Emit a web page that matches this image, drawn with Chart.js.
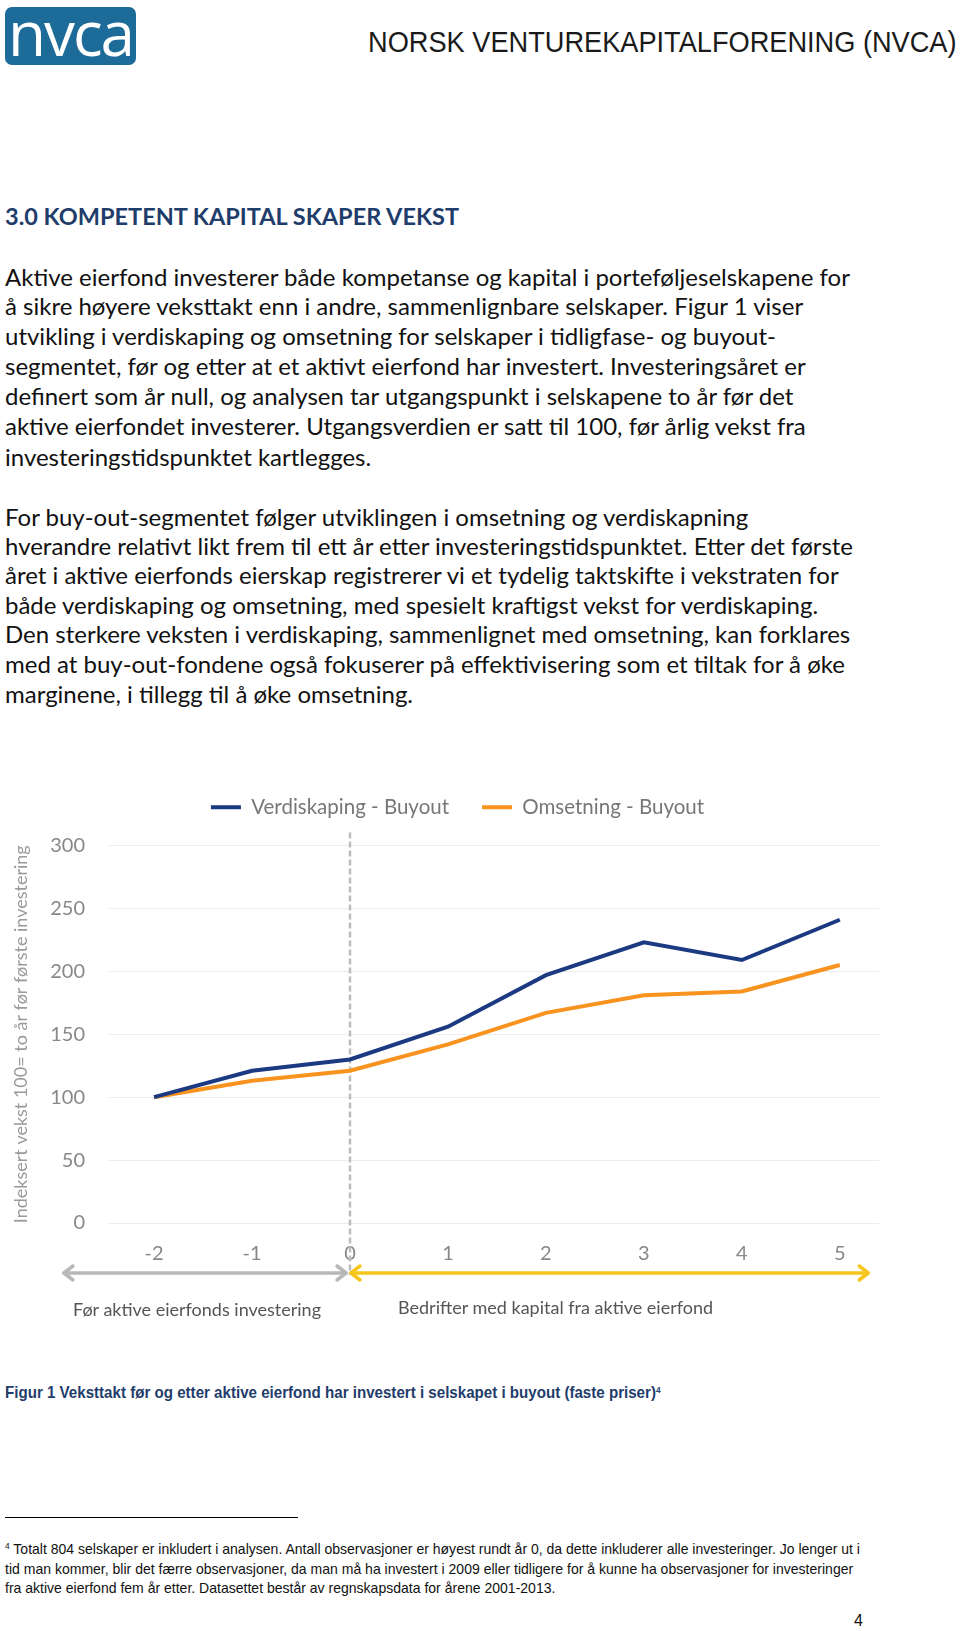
<!DOCTYPE html>
<html>
<head>
<meta charset="utf-8">
<script src="https://cdn.jsdelivr.net/npm/chart.js@4.4.1/dist/chart.umd.min.js"></script>
<style>
  body { margin:0; width:960px; height:1631px; background:#fff; position:relative; overflow:hidden; font-family:Lato, sans-serif; color:#111; }
  .t { position:absolute; white-space:nowrap; }
  #logo { position:absolute; left:5px; top:7px; width:131px; height:58px; background:#1d6b98; border-radius:7px;
          color:#fff; font-family:"Open Sans", sans-serif; font-weight:400; font-size:62px; line-height:50px; text-align:center; letter-spacing:-2px; }
  #org { right:3px; top:23px; font-family:"Liberation Sans", sans-serif; font-size:30px; line-height:38px; color:#1a1a1a;
         transform:scaleX(0.906); transform-origin:right center; }
  #head { left:5px; top:202px; font-family:Lato, sans-serif; font-weight:700; font-size:23.5px; line-height:28px; color:#1f3d6b; }
  .body { left:5px; font-family:Lato, sans-serif; font-size:24px; line-height:30px; color:#111; }
  #chartBox { position:absolute; left:0; top:764px; width:960px; height:543px; }
  .under { font-family:Lato, sans-serif; font-size:18px; line-height:22px; color:#555; }
  #cap { left:5px; top:1381px; font-family:"Liberation Sans", sans-serif; font-weight:700; font-size:16.5px; line-height:22px; color:#1f3d6b;
         transform:scaleX(0.916); transform-origin:left center; }
  #rule { position:absolute; left:5px; top:1517px; width:293px; height:1px; background:#000; }
  .fn { left:5px; font-family:"Liberation Sans", sans-serif; font-size:15px; line-height:19px; color:#111;
        transform:scaleX(0.935); transform-origin:left center; }
  sup { font-size:9px; vertical-align:top; position:relative; top:-2px; }
</style>
</head>
<body>
<div id="logo">nvca</div>
<div class="t" id="org">NORSK VENTUREKAPITALFORENING (NVCA)</div>
<div class="t" id="head">3.0 KOMPETENT KAPITAL SKAPER VEKST</div>

<div class="t body" style="top:262px">Aktive eierfond investerer både kompetanse og kapital i porteføljeselskapene for</div>
<div class="t body" style="top:291px">å sikre høyere veksttakt enn i andre, sammenlignbare selskaper. Figur 1 viser</div>
<div class="t body" style="top:321px">utvikling i verdiskaping og omsetning for selskaper i tidligfase- og buyout-</div>
<div class="t body" style="top:351px">segmentet, før og etter at et aktivt eierfond har investert. Investeringsåret er</div>
<div class="t body" style="top:381px">definert som år null, og analysen tar utgangspunkt i selskapene to år før det</div>
<div class="t body" style="top:411px">aktive eierfondet investerer. Utgangsverdien er satt til 100, før årlig vekst fra</div>
<div class="t body" style="top:442px">investeringstidspunktet kartlegges.</div>

<div class="t body" style="top:502px">For buy-out-segmentet følger utviklingen i omsetning og verdiskapning</div>
<div class="t body" style="top:531px">hverandre relativt likt frem til ett år etter investeringstidspunktet. Etter det første</div>
<div class="t body" style="top:560px">året i aktive eierfonds eierskap registrerer vi et tydelig taktskifte i vekstraten for</div>
<div class="t body" style="top:590px">både verdiskaping og omsetning, med spesielt kraftigst vekst for verdiskaping.</div>
<div class="t body" style="top:619px">Den sterkere veksten i verdiskaping, sammenlignet med omsetning, kan forklares</div>
<div class="t body" style="top:649px">med at buy-out-fondene også fokuserer på effektivisering som et tiltak for å øke</div>
<div class="t body" style="top:679px">marginene, i tillegg til å øke omsetning.</div>

<div id="chartBox"><canvas id="growthChart"></canvas></div>
<div class="t under" style="left:73px; top:1298px">Før aktive eierfonds investering</div>
<div class="t under" style="left:398px; top:1296px">Bedrifter med kapital fra aktive eierfond</div>

<div class="t" id="cap">Figur 1 Veksttakt før og etter aktive eierfond har investert i selskapet i buyout (faste priser)<sup>4</sup></div>

<div id="rule"></div>
<div class="t fn" style="top:1539px"><sup>4</sup> Totalt 804 selskaper er inkludert i analysen. Antall observasjoner er høyest rundt år 0, da dette inkluderer alle investeringer. Jo lenger ut i</div>
<div class="t fn" style="top:1559px">tid man kommer, blir det færre observasjoner, da man må ha investert i 2009 eller tidligere for å kunne ha observasjoner for investeringer</div>
<div class="t fn" style="top:1578px">fra aktive eierfond fem år etter. Datasettet består av regnskapsdata for årene 2001-2013.</div>
<div class="t" style="left:854px; top:1610px; font-family:'Liberation Sans',sans-serif; font-size:16px; line-height:22px;">4</div>

<script>
// ---------------------------
// Data
// ---------------------------
const years        = [-2, -1, 0, 1, 2, 3, 4, 5];
const verdiskaping = [100, 121, 130, 156, 197, 223, 209, 241];
const omsetning    = [100, 113, 121, 142, 167, 181, 184, 205];
const yTicks = [0, 50, 100, 150, 200, 250, 300];

// arrow spans under the axis, in x units
const beforeSpan = [-2.93, -0.03];
const afterSpan  = [0.0, 5.3];

const BLUE = '#1b3a82';
const ORANGE = '#f7931e';

// double-headed arrow with open (chevron) heads
function drawArrow(ctx, x1, x2, y, color){
  const head = 10, half = 7;
  ctx.strokeStyle = color; ctx.lineWidth = 3.5; ctx.lineCap = 'round'; ctx.lineJoin = 'round';
  ctx.beginPath(); ctx.moveTo(x1 + 1, y); ctx.lineTo(x2 - 1, y); ctx.stroke();
  ctx.beginPath(); ctx.moveTo(x1 + head, y - half); ctx.lineTo(x1 + 1, y); ctx.lineTo(x1 + head, y + half); ctx.stroke();
  ctx.beginPath(); ctx.moveTo(x2 - head, y - half); ctx.lineTo(x2 - 1, y); ctx.lineTo(x2 - head, y + half); ctx.stroke();
}

// dashed line at the investment year + the before/after arrows
const investLine = {
  id: 'investLine',
  beforeDatasetsDraw(chart){
    const {ctx, chartArea: a, scales: {x}} = chart;
    const x0 = x.getPixelForValue(0);
    ctx.save();
    ctx.strokeStyle = '#bdbdbd'; ctx.lineWidth = 2.5; ctx.setLineDash([6, 3]);
    ctx.beginPath(); ctx.moveTo(x0, a.top - 13); ctx.lineTo(x0, a.bottom + 52); ctx.stroke();
    ctx.restore();
  },
  afterDraw(chart){
    const {ctx, chartArea: a, scales: {x}} = chart;
    const y = a.bottom + 50;
    ctx.save();
    drawArrow(ctx, x.getPixelForValue(beforeSpan[0]), x.getPixelForValue(beforeSpan[1]), y, '#b8b8b8');
    drawArrow(ctx, x.getPixelForValue(afterSpan[0]), x.getPixelForValue(afterSpan[1]), y, '#f6c61c');
    ctx.restore();
  }
};

const toPoints = arr => arr.map((v, i) => ({ x: years[i], y: v }));

new Chart(document.getElementById('growthChart'), {
  type: 'line',
  data: {
    datasets: [
      { label: 'Verdiskaping - Buyout', data: toPoints(verdiskaping), xAxisID: 'x', yAxisID: 'y',
        borderColor: BLUE, backgroundColor: BLUE, borderWidth: 4, pointRadius: 0, tension: 0 },
      { label: 'Omsetning - Buyout', data: toPoints(omsetning), xAxisID: 'x', yAxisID: 'y',
        borderColor: ORANGE, backgroundColor: ORANGE, borderWidth: 4, pointRadius: 0, tension: 0 }
    ]
  },
  options: {
    responsive: true,
    maintainAspectRatio: false,
    animation: false,
    layout: { padding: { left: 0, right: 45, top: 0, bottom: 0 } },
    plugins: {
      legend: {
        position: 'top',
        labels: {
          boxWidth: 30, boxHeight: 4, padding: 33, color: '#777', font: { family: 'Lato', size: 20.5 },
          generateLabels: chart => Chart.defaults.plugins.legend.labels.generateLabels(chart)
            .map(l => ({ ...l, lineWidth: 0 }))
        }
      },
      subtitle: { display: true, text: '', weight: 500, font: { size: 10 }, padding: { top: 0, bottom: 6 } },
      tooltip: { enabled: false }
    },
    scales: {
      x: {
        type: 'linear', min: -2.46, max: 5.4,
        afterBuildTicks: s => { s.ticks = years.map(v => ({ value: v })); },
        afterFit: s => { s.height = 84; },
        grid: { display: false, drawTicks: false },
        border: { display: false },
        ticks: { padding: 19, color: '#888', font: { family: 'Lato', size: 20 } }
      },
      y: {
        min: 0, max: 300,
        afterBuildTicks: s => { s.ticks = yTicks.map(v => ({ value: v })); },
        afterFit: s => { s.width = 109; },
        grid: { color: '#ececec', lineWidth: 1, drawTicks: false },
        border: { display: false },
        ticks: { padding: 24, color: '#888', font: { family: 'Lato', size: 20 } },
        title: { display: true, text: 'Indeksert vekst 100= to år før første investering', color: '#9a9a9a',
                 font: { family: 'Lato', size: 18 }, padding: { top: 10, bottom: 0 } }
      },
      // empty spacer on the right so the legend centres where the original does
      yPad: {
        type: 'linear', position: 'right', display: true,
        afterFit: s => { s.width = 36; },
        grid: { display: false }, border: { display: false }, ticks: { display: false }
      }
    }
  },
  plugins: [investLine]
});
</script>
</body>
</html>
